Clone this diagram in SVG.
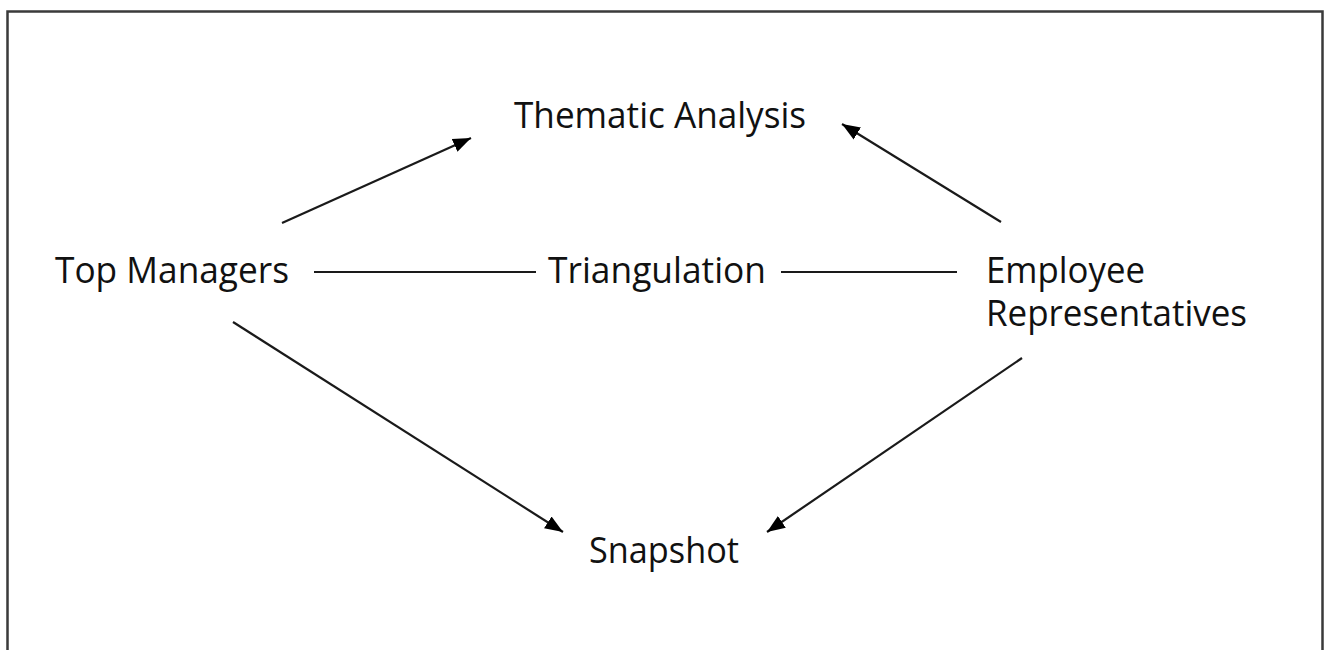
<svg xmlns="http://www.w3.org/2000/svg" width="1330" height="650" viewBox="0 0 1330 650">
  <style>
    .label { font-family: "Open Sans", "Noto Sans", "Liberation Sans", sans-serif; font-size: 36px; fill: #111; }
    .edge { stroke: #1a1a1a; stroke-width: 2.2; fill: none; }
    .frame { stroke: #3a3a3a; stroke-width: 2.5; fill: #fff; }
  </style>
  <defs>
    <marker id="arrow" markerUnits="userSpaceOnUse" markerWidth="20" markerHeight="18" refX="18" refY="9" orient="auto">
      <path d="M0,2 L18,9 L0,16 Z" fill="#000"/>
    </marker>
  </defs>

  <rect width="1330" height="650" fill="#fff"/>
  <rect class="frame" x="7.5" y="11.5" width="1315" height="660"/>

  <g id="connectors">
    <line class="edge" x1="282" y1="223" x2="471" y2="138" marker-end="url(#arrow)"/>
    <line class="edge" x1="1001" y1="222" x2="842" y2="124" marker-end="url(#arrow)"/>
    <line class="edge" x1="233" y1="322" x2="563" y2="532" marker-end="url(#arrow)"/>
    <line class="edge" x1="1022" y1="358" x2="767" y2="532" marker-end="url(#arrow)"/>
    <line class="edge" x1="314" y1="272" x2="536" y2="272"/>
    <line class="edge" x1="781" y1="272" x2="957" y2="272"/>
  </g>

  <g id="thematic-analysis">
    <text class="label" x="514" y="128" textLength="292" lengthAdjust="spacingAndGlyphs">Thematic Analysis</text>
  </g>
  <g id="top-managers">
    <text class="label" x="55" y="283" textLength="234" lengthAdjust="spacingAndGlyphs">Top Managers</text>
  </g>
  <g id="triangulation">
    <text class="label" x="548" y="283" textLength="218" lengthAdjust="spacingAndGlyphs">Triangulation</text>
  </g>
  <g id="employee-representatives">
    <text class="label" x="986" y="283" textLength="159" lengthAdjust="spacingAndGlyphs">Employee</text>
    <text class="label" x="986" y="326" textLength="261" lengthAdjust="spacingAndGlyphs">Representatives</text>
  </g>
  <g id="snapshot">
    <text class="label" x="589" y="563" textLength="150" lengthAdjust="spacingAndGlyphs">Snapshot</text>
  </g>
</svg>
